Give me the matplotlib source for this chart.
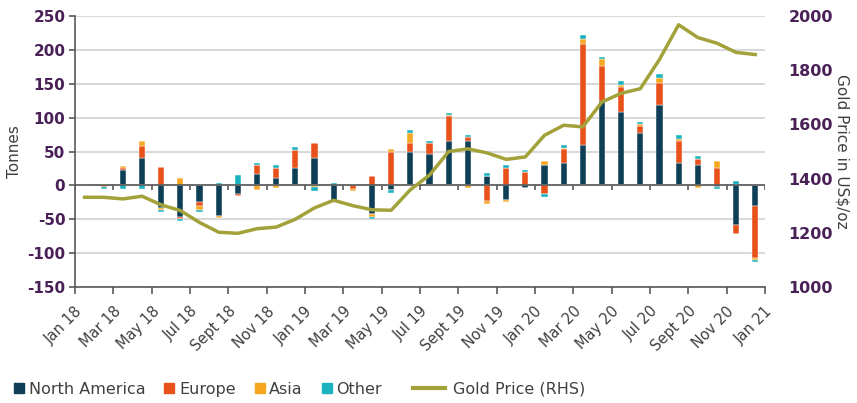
import numpy as np
import matplotlib.pyplot as plt
from matplotlib.lines import Line2D

plt.rcParams['axes.unicode_minus'] = False

# monthly flows, Jan 2018 .. Dec 2020 (tonnes)
months = ['Jan 18', 'Feb 18', 'Mar 18', 'Apr 18', 'May 18', 'Jun 18', 'Jul 18', 'Aug 18', 'Sep 18', 'Oct 18', 'Nov 18', 'Dec 18',
          'Jan 19', 'Feb 19', 'Mar 19', 'Apr 19', 'May 19', 'Jun 19', 'Jul 19', 'Aug 19', 'Sep 19', 'Oct 19', 'Nov 19', 'Dec 19',
          'Jan 20', 'Feb 20', 'Mar 20', 'Apr 20', 'May 20', 'Jun 20', 'Jul 20', 'Aug 20', 'Sep 20', 'Oct 20', 'Nov 20', 'Dec 20']

north_america = [0, 1, 23, 40, -34, -47, -25, -45, -13, 17, 11, 26,
                 40, -25, 1, -42, -7, 49, 46, 65, 65, 14, -21, -4,
                 30, 33, 59, 125, 109, 78, 119, 33, 30, -2, -59, -31]
europe = [0, -2, 2, 18, 27, -2, -5, 0, -3, 13, 15, 26,
          22, 0, -6, 14, 50, 13, 16, 38, 6, -23, 26, 20,
          -13, 20, 150, 51, 36, 9, 32, 32, 9, 26, -13, -76]
asia = [0, -1, 3, 7, -3, 11, -6, -3, 0, -7, -4, 0,
        -3, 0, -3, -4, 3, 16, 0, 1, -4, -4, -3, 0,
        6, 2, 7, 10, 3, 3, 7, 3, -4, 10, 0, -3]
other = [0, -3, -5, -5, -3, -3, -4, 4, 15, 3, 4, 4,
         -5, 3, 0, -4, -4, 4, 4, 3, 3, 4, 4, 3,
         -4, 4, 6, 4, 6, 4, 7, 6, 4, -3, 7, -3]
gold = [1331, 1331, 1325, 1335, 1303, 1282, 1238, 1202, 1198, 1215, 1221, 1250,
        1292, 1320, 1300, 1285, 1283, 1359, 1413, 1500, 1510, 1495, 1471, 1480,
        1560, 1597, 1591, 1683, 1715, 1732, 1840, 1968, 1921, 1900, 1866, 1858]

tick_labels = ['Jan 18', 'Mar 18', 'May 18', 'Jul 18', 'Sept 18', 'Nov 18', 'Jan 19', 'Mar 19', 'May 19', 'Jul 19',
               'Sept 19', 'Nov 19', 'Jan 20', 'Mar 20', 'May 20', 'Jul 20', 'Sept 20', 'Nov 20', 'Jan 21']

series = [('North America', north_america, '#0f3e57'),
          ('Europe', europe, '#e9511b'),
          ('Asia', asia, '#f6a722'),
          ('Other', other, '#1bb3bf')]
gold_col = '#a3a23a'
purple = '#4a2157'
grey = '#404040'

fig = plt.figure(figsize=(8.57, 4.03), dpi=100)
ax = fig.add_axes([0.0875, 0.288, 0.805, 0.672])

x = np.arange(len(months))
pos = np.zeros(len(months))
neg = np.zeros(len(months))
for name, vals, col in series:
    v = np.array(vals, dtype=float)
    p = np.where(v > 0, v, 0)
    n = np.where(v < 0, v, 0)
    ax.bar(x, p, 0.32, bottom=pos, color=col, edgecolor='white', linewidth=0.3, zorder=3)
    ax.bar(x, n, 0.32, bottom=neg, color=col, edgecolor='white', linewidth=0.3, zorder=3)
    pos += p
    neg += n

ax.set_xlim(-0.5, 35.5)
ax.set_ylim(-150, 250)
ax.set_yticks(np.arange(-150, 251, 50))
ax.grid(axis='y', color='#d9d9d9', linewidth=1.5, zorder=0)
ax.axhline(0, color='#595959', linewidth=1.2, zorder=4)
ticks = np.arange(-0.5, 36, 2)
ax.vlines(ticks, 0, -7, color='#595959', linewidth=1.2, zorder=4)
ax.set_xticks(ticks)
ax.set_xticklabels(tick_labels, rotation=45, ha='right', rotation_mode='anchor', color=grey, fontsize=10.5)
ax.tick_params(axis='x', length=5, width=1.2, color='#595959', pad=7)
ax.tick_params(axis='y', length=4, width=1.2, color='#595959', labelsize=11, labelcolor=purple, pad=3)
for lab in ax.get_yticklabels():
    lab.set_fontweight('bold')
for s in ['top', 'right']:
    ax.spines[s].set_visible(False)
for s in ['left', 'bottom']:
    ax.spines[s].set_color('#595959')
    ax.spines[s].set_linewidth(1.2)
ax.set_ylabel('Tonnes', color=grey, fontsize=11, labelpad=4)

ax2 = ax.twinx()
ax2.plot(x, gold, color=gold_col, linewidth=2.5, zorder=5)
ax2.set_ylim(1000, 2000)
ax2.set_yticks(np.arange(1000, 2001, 200))
ax2.tick_params(axis='y', length=0, pad=17, labelsize=11.5, labelcolor=purple)
for lab in ax2.get_yticklabels():
    lab.set_fontweight('bold')
for s in ax2.spines.values():
    s.set_visible(False)
ax2.set_ylabel('Gold Price in US$/oz', color=grey, fontsize=11, rotation=270, labelpad=12)

handles = [Line2D([], [], marker='s', linestyle='none', markersize=7, color=col) for _, _, col in series]
leg1 = fig.legend(handles, [s[0] for s in series], loc='lower left', bbox_to_anchor=(0.0, -0.02),
                  ncol=4, frameon=False, fontsize=11.5, handlelength=0.6, handletextpad=0.3,
                  columnspacing=1.2, labelcolor=grey)
leg2 = fig.legend([Line2D([], [], color=gold_col, linewidth=3)], ['Gold Price (RHS)'], loc='lower left',
                  bbox_to_anchor=(0.465, -0.02), frameon=False, fontsize=11.5, handlelength=2.0,
                  handletextpad=0.5, labelcolor=grey)

plt.savefig('out.png')
